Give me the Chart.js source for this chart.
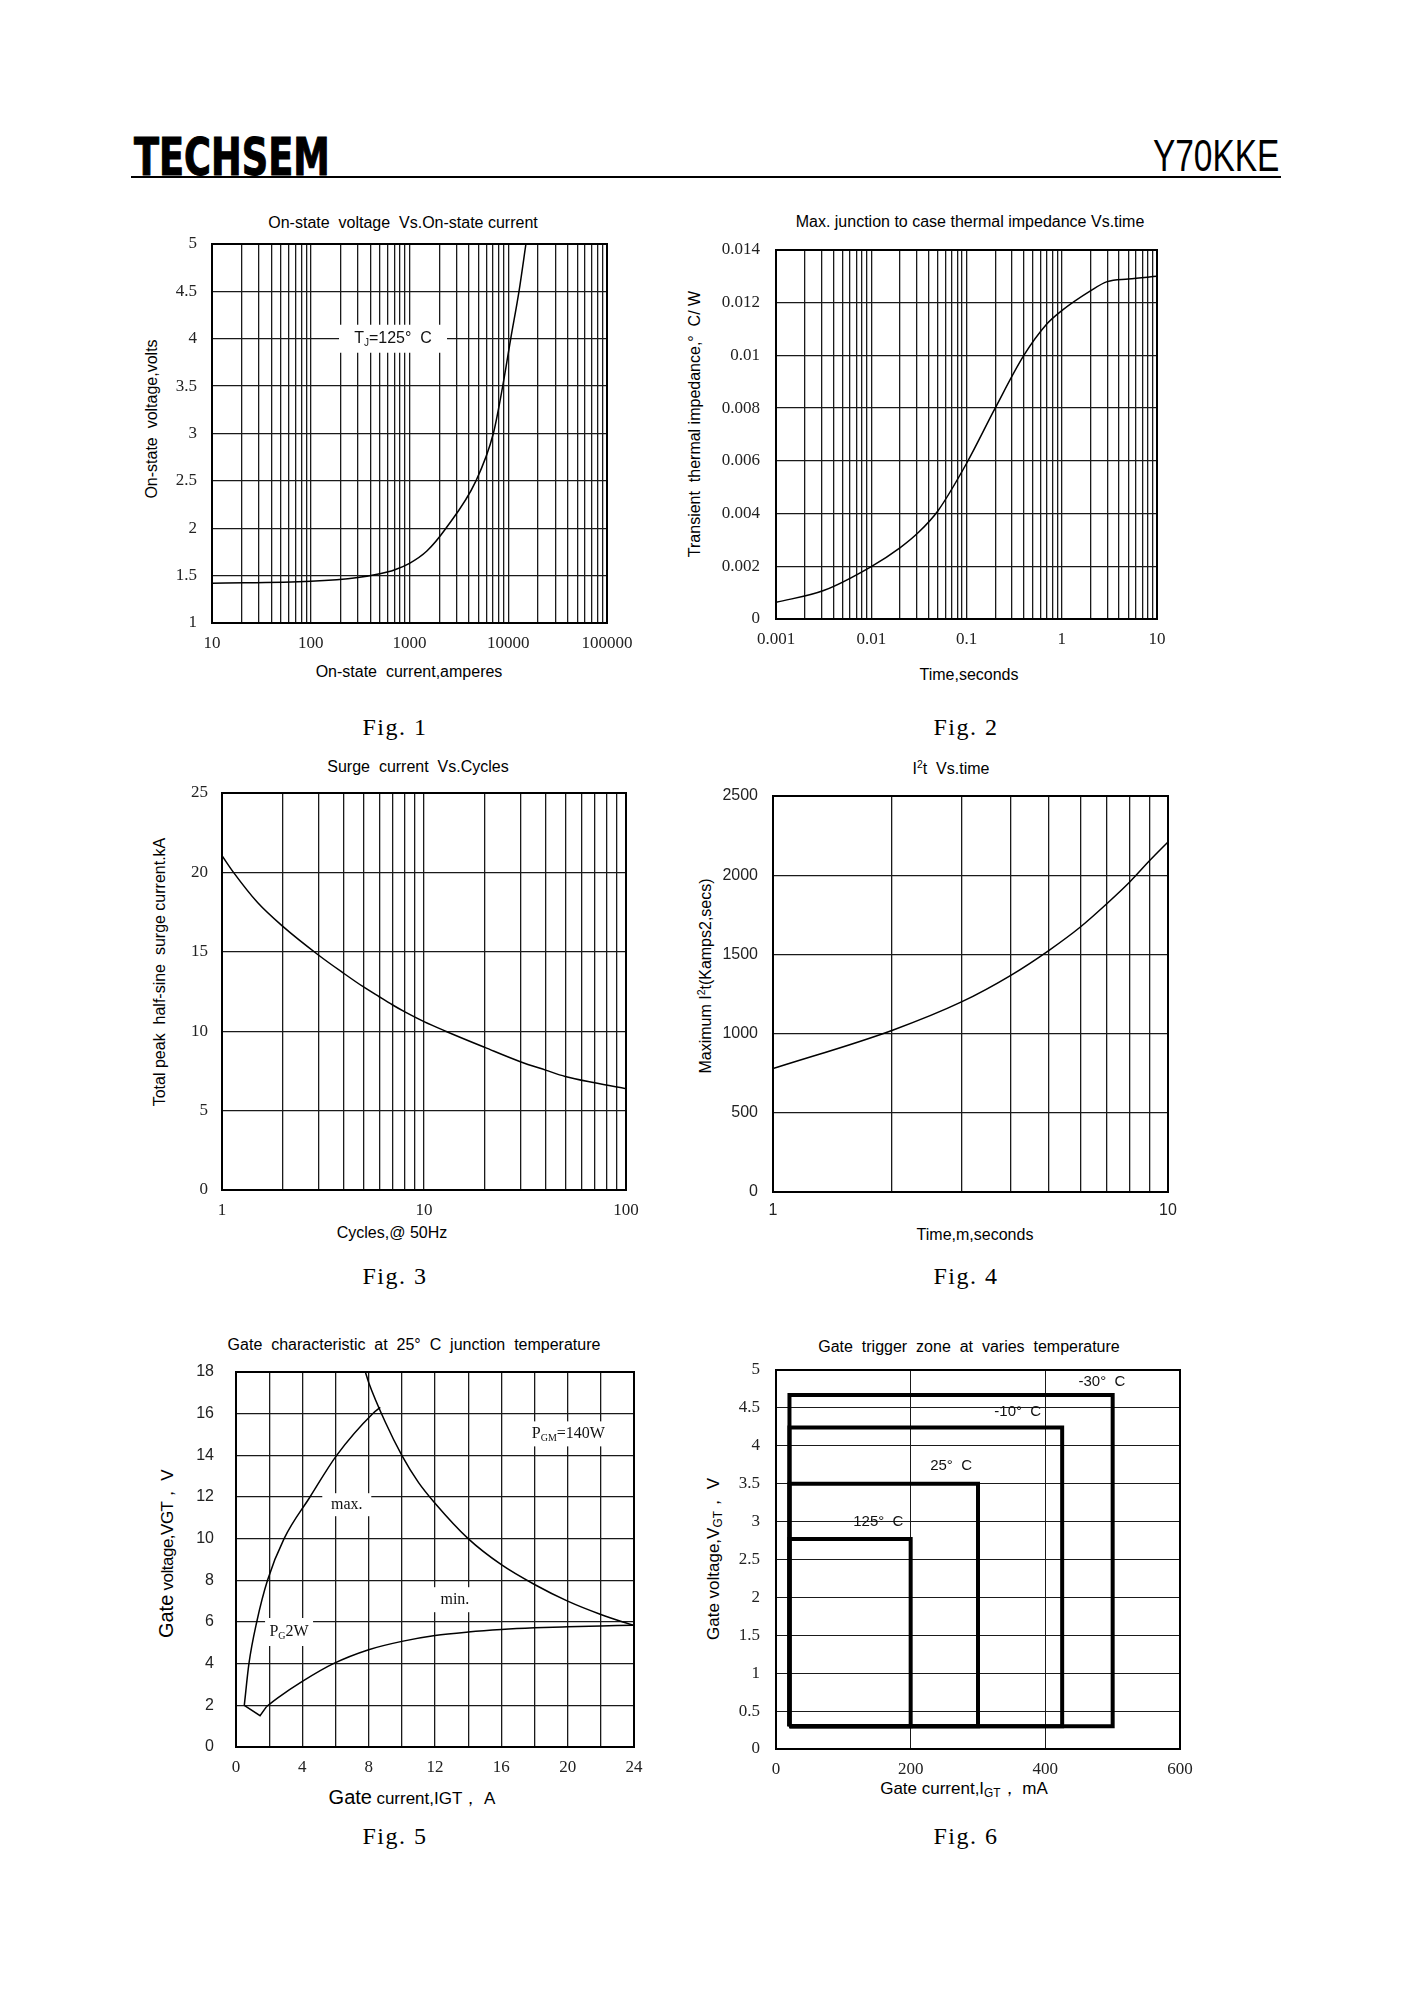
<!DOCTYPE html>
<html>
<head>
<meta charset="utf-8">
<script src="https://cdn.jsdelivr.net/npm/chart.js@4.4.1/dist/chart.umd.min.js"></script>
<style>
  body { margin: 0; background: #fff; }
  #page { position: relative; width: 1414px; height: 2000px; background: #fff; color: #000;
          font-family: "Liberation Sans", Arial, sans-serif; overflow: hidden; }
  .t { position: absolute; white-space: nowrap; transform: translate(-50%, -50%); font-size: 16px; }
  .v { position: absolute; white-space: nowrap; transform: translate(-50%, -50%) rotate(-90deg); font-size: 16px; }
  .fig { position: absolute; white-space: nowrap; transform: translate(-50%, -50%);
         font-family: "Liberation Serif", serif; font-size: 24px; letter-spacing: 1.5px; }
  canvas { position: absolute; }
  sub { font-size: 70%; vertical-align: -3px; }
  sup { font-size: 65%; vertical-align: 6px; }
</style>
</head>
<body>
<div id="page">
  <div style="position:absolute;left:134px;top:128px;font-family:'DejaVu Sans Condensed','Liberation Sans',sans-serif;font-weight:bold;font-size:51px;transform:scaleX(0.8);transform-origin:left top;-webkit-text-stroke:1px #000;">TECHSEM</div>
  <div style="position:absolute;right:135px;top:131px;font-size:44px;transform:scaleX(0.76);transform-origin:right top;">Y70KKE</div>
  <div style="position:absolute;left:131px;top:176px;width:1150px;height:2px;background:#000;"></div>

  <div class="t" style="left:403px;top:223px;">On-state &nbsp;voltage &nbsp;Vs.On-state current</div>
  <div class="t" style="left:409px;top:672px;">On-state &nbsp;current,amperes</div>
  <div class="v" style="left:152px;top:419px;">On-state &nbsp;voltage,volts</div>
  <div class="fig" style="left:395px;top:727px;">Fig. 1</div>

  <div class="t" style="left:970px;top:222px;">Max. junction to case thermal impedance Vs.time</div>
  <div class="t" style="left:969px;top:675px;">Time,seconds</div>
  <div class="v" style="left:695px;top:424px;">Transient &nbsp;thermal impedance,° &nbsp;C/ W</div>
  <div class="fig" style="left:966px;top:727px;">Fig. 2</div>

  <div class="t" style="left:418px;top:767px;">Surge &nbsp;current &nbsp;Vs.Cycles</div>
  <div class="t" style="left:392px;top:1233px;">Cycles,@ 50Hz</div>
  <div class="v" style="left:160px;top:972px;">Total peak &nbsp;half-sine &nbsp;surge current.kA</div>
  <div class="fig" style="left:395px;top:1276px;">Fig. 3</div>

  <div class="t" style="left:951px;top:768px;">I<sup>2</sup>t &nbsp;Vs.time</div>
  <div class="t" style="left:975px;top:1235px;">Time,m,seconds</div>
  <div class="v" style="left:705px;top:976px;">Maximum I<sup>2</sup>t(Kamps2,secs)</div>
  <div class="fig" style="left:966px;top:1276px;">Fig. 4</div>

  <div class="t" style="left:414px;top:1345px;">Gate &nbsp;characteristic &nbsp;at &nbsp;25° &nbsp;C &nbsp;junction &nbsp;temperature</div>
  <div class="t" style="left:412px;top:1798px;"><span style="font-size:20px;">Gate</span> <span style="font-size:17px;">current,IGT，&nbsp;A</span></div>
  <div class="v" style="left:167px;top:1554px;"><span style="font-size:20px;">Gate</span><span style="font-size:17px;letter-spacing:-0.5px;"> voltage,VGT，&nbsp;V</span></div>
  <div class="fig" style="left:395px;top:1836px;">Fig. 5</div>

  <div class="t" style="left:969px;top:1347px;">Gate &nbsp;trigger &nbsp;zone &nbsp;at &nbsp;varies &nbsp;temperature</div>
  <div class="t" style="left:964px;top:1788px;font-size:17px;">Gate current,I<sub>GT</sub>，&nbsp;mA</div>
  <div class="v" style="left:713px;top:1559px;font-size:17px;">Gate voltage,V<sub>GT</sub>，&nbsp;V</div>
  <div class="fig" style="left:966px;top:1836px;">Fig. 6</div>
</div>

<script>
// Fig. 1: on-state voltage vs on-state current
const fig1Current = [10, 100, 300, 500, 700, 1000, 1500, 2340, 4710, 7060, 8790, 10590, 12850, 15100];
const fig1Voltage = [1.42, 1.44, 1.48, 1.52, 1.56, 1.63, 1.76, 2.0, 2.5, 3.0, 3.5, 4.0, 4.5, 5.0];
const fig1XTicks = [10, 100, 1000, 10000, 100000];
const fig1XLabels = ['10', '100', '1000', '10000', '100000'];
const fig1YLabels = ['1', '1.5', '2', '2.5', '3', '3.5', '4', '4.5', '5'];

// Fig. 2: transient thermal impedance vs time
const fig2Time = [0.001, 0.00316, 0.01, 0.02, 0.0316, 0.05, 0.1, 0.2, 0.4, 0.7, 1, 2, 3, 5, 10];
const fig2Z = [0.00063, 0.00108, 0.00199, 0.0027, 0.0033, 0.0041, 0.0059, 0.0080, 0.0100, 0.0112, 0.0117, 0.01245, 0.0128, 0.0129, 0.0130];
const fig2XTicks = [0.001, 0.01, 0.1, 1, 10];
const fig2XLabels = ['0.001', '0.01', '0.1', '1', '10'];
const fig2YLabels = ['0', '0.002', '0.004', '0.006', '0.008', '0.01', '0.012', '0.014'];

// Fig. 3: surge current vs cycles
const fig3Cycles = [1, 1.14, 1.5, 2, 3, 4, 5, 6, 7, 8, 10, 12.8, 20, 30, 40, 50, 70, 100];
const fig3Current = [21.05, 20, 18.1, 16.6, 14.8, 13.65, 12.8, 12.17, 11.65, 11.23, 10.6, 10, 8.98, 8.08, 7.55, 7.15, 6.75, 6.38];
const fig3XTicks = [1, 10, 100];
const fig3XLabels = ['1', '10', '100'];
const fig3YLabels = ['0', '5', '10', '15', '20', '25'];

// Fig. 4: I2t vs time
const fig4Time = [1, 2, 3, 4, 5, 6, 7, 8, 9, 10];
const fig4I2t = [779, 1020, 1200, 1368, 1526, 1673, 1820, 1957, 2094, 2210];
const fig4XTicks = [1, 10];
const fig4XLabels = ['1', '10'];
const fig4YLabels = ['0', '500', '1000', '1500', '2000', '2500'];

// Fig. 5: gate characteristic
const fig5MaxI = [0.5, 0.78, 1.25, 1.9, 2.9, 4.46, 6.07, 8.24, 8.7];
const fig5MaxV = [2.0, 4, 6, 8, 10, 12, 14, 16, 16.3];
const fig5PgI = [0.5, 1.45, 1.85];
const fig5PgV = [2.0, 1.5, 1.95];
const fig5MinI = [1.85, 2.5, 4, 5.87, 8, 10, 12, 14, 16, 18, 20, 22, 24];
const fig5MinV = [1.95, 2.35, 3.15, 4.0, 4.67, 5.07, 5.35, 5.52, 5.64, 5.72, 5.77, 5.81, 5.85];
const fig5PgmI = [7.8, 8, 9, 10, 11, 12, 14, 16, 18, 20, 22, 24];
const fig5PgmV = [18, 17.5, 15.6, 14, 12.7, 11.7, 10, 8.75, 7.8, 7, 6.36, 5.83];
const fig5XLabels = ['0', '4', '8', '12', '16', '20', '24'];
const fig5YLabels = ['0', '2', '4', '6', '8', '10', '12', '14', '16', '18'];

// Fig. 6: gate trigger zones
const fig6Zones = ['-30° C', '-10° C', '25° C', '125° C'];
const fig6ZoneRight = [500, 425, 300, 200];
const fig6ZoneTop = [4.67, 4.24, 3.5, 2.77];
const fig6ZoneLeft = 20;
const fig6ZoneBottom = 0.3;
const fig6XLabels = ['0', '200', '400', '600'];
const fig6YLabels = ['0', '0.5', '1', '1.5', '2', '2.5', '3', '3.5', '4', '4.5', '5'];

const PAD_L = 80, PAD_T = 14, PAD_R = 50, PAD_B = 40;
const SERIF = '"Liberation Serif", "DejaVu Serif", serif';
const SANS = '"Liberation Sans", Arial, sans-serif';

function pts(xs, ys) {
    return xs.map((x, i) => ({ x: x, y: ys[i] }));
}

// gridline positions 1..9 per decade
function logGrid(min, max) {
    let out = [];
    for (let d = min; d < max * 0.999; d *= 10) {
        for (let k = 1; k < 10; k++) out.push(Number((d * k).toPrecision(6)));
    }
    out.push(max);
    return out;
}

function labelFor(vals, labels) {
    return (v) => {
        const i = vals.findIndex(t => Math.abs(t - v) <= Math.abs(t) * 1e-6 + 1e-12);
        return i < 0 ? '' : labels[i];
    };
}

const frame = {
    id: 'frame',
    afterDraw(chart) {
        const a = chart.chartArea, ctx = chart.ctx;
        ctx.save();
        ctx.strokeStyle = '#000';
        ctx.lineWidth = 2;
        ctx.strokeRect(a.left, a.top, a.right - a.left, a.bottom - a.top);
        ctx.restore();
    }
};

const notes = {
    id: 'notes',
    afterDatasetsDraw(chart, args, opts) {
        const ctx = chart.ctx, xs = chart.scales.x, ys = chart.scales.y;
        (opts.items || []).forEach(it => {
            const px = xs.getPixelForValue(it.x), py = ys.getPixelForValue(it.y);
            ctx.save();
            let w = 0;
            it.parts.forEach(p => { ctx.font = p.sub ? it.subFont : it.font; w += ctx.measureText(p.t).width; });
            if (it.box) {
                ctx.fillStyle = '#fff';
                ctx.fillRect(px - it.box[0] / 2, py - it.box[1] / 2, it.box[0], it.box[1]);
            }
            let x = px - w / 2;
            ctx.fillStyle = '#111';
            ctx.textBaseline = 'middle';
            it.parts.forEach(p => {
                ctx.font = p.sub ? it.subFont : it.font;
                ctx.fillText(p.t, x, py + (p.sub ? 4 : 0));
                x += ctx.measureText(p.t).width;
            });
            ctx.restore();
        });
    }
};

function makeChart(box, datasets, xScale, yScale, items, gridWidth) {
    const canvas = document.createElement('canvas');
    const w = box.R - box.L + PAD_L + PAD_R, h = box.B - box.T + PAD_T + PAD_B;
    canvas.width = w;
    canvas.height = h;
    canvas.style.left = (box.L - PAD_L) + 'px';
    canvas.style.top = (box.T - PAD_T) + 'px';
    canvas.style.width = w + 'px';
    canvas.style.height = h + 'px';
    document.getElementById('page').appendChild(canvas);

    const grid = { color: '#1a1a1a', lineWidth: gridWidth || 1.3, drawTicks: false };
    const border = { display: true, color: '#000', width: 2 };
    xScale.grid = grid;
    yScale.grid = grid;
    xScale.border = border;
    yScale.border = border;
    xScale.afterFit = s => { s.height = PAD_B; s.paddingLeft = 0; s.paddingRight = 0; };
    yScale.afterFit = s => { s.width = PAD_L; s.paddingTop = 0; s.paddingBottom = 0; };

    return new Chart(canvas, {
        type: 'line',
        data: { datasets: datasets },
        options: {
            responsive: false,
            animation: false,
            devicePixelRatio: 1,
            layout: { padding: { left: 0, top: PAD_T, right: PAD_R, bottom: 0 } },
            scales: { x: xScale, y: yScale },
            plugins: {
                legend: { display: false },
                tooltip: { enabled: false },
                notes: { items: items || [] }
            }
        },
        plugins: [frame, notes]
    });
}

function curve(data, opts) {
    return Object.assign({
        data: data,
        borderColor: '#000',
        borderWidth: 1.5,
        pointRadius: 0,
        fill: false,
        cubicInterpolationMode: 'monotone'
    }, opts || {});
}

function logX(min, max, tickVals, labels, pad, font) {
    const grid = logGrid(min, max);
    return {
        type: 'logarithmic', min: min, max: max,
        afterBuildTicks: s => { s.ticks = grid.map(v => ({ value: v })); },
        ticks: { autoSkip: false, maxRotation: 0, padding: pad, color: '#222', font: font,
                 callback: labelFor(tickVals, labels) }
    };
}

function linY(min, max, step, labels, pad, font) {
    const vals = labels.map(Number);
    return {
        type: 'linear', min: min, max: max,
        ticks: { stepSize: step, padding: pad, color: '#222', font: font,
                 callback: labelFor(vals, labels) }
    };
}

const serif17 = { family: SERIF, size: 17 };
const sans16 = { family: SANS, size: 16 };

// Fig. 1
makeChart({ L: 212, T: 244, R: 607, B: 623 },
    [curve(pts(fig1Current, fig1Voltage))],
    logX(10, 100000, fig1XTicks, fig1XLabels, 10, serif17),
    linY(1, 5, 0.5, fig1YLabels, 15, serif17),
    [{ x: 681, y: 4.0, box: [108, 28], font: '16px ' + SANS, subFont: '10px ' + SANS,
       parts: [{ t: 'T' }, { t: 'J', sub: true }, { t: '=125°  C' }] }]);

// Fig. 2
makeChart({ L: 776, T: 250, R: 1157, B: 619 },
    [curve(pts(fig2Time, fig2Z))],
    logX(0.001, 10, fig2XTicks, fig2XLabels, 10, serif17),
    linY(0, 0.014, 0.002, fig2YLabels, 16, serif17));

// Fig. 3
makeChart({ L: 222, T: 793, R: 626, B: 1190 },
    [curve(pts(fig3Cycles, fig3Current))],
    logX(1, 100, fig3XTicks, fig3XLabels, 10, serif17),
    linY(0, 25, 5, fig3YLabels, 14, serif17));

// Fig. 4
makeChart({ L: 773, T: 796, R: 1168, B: 1192 },
    [curve(pts(fig4Time, fig4I2t))],
    logX(1, 10, fig4XTicks, fig4XLabels, 9, sans16),
    linY(0, 2500, 500, fig4YLabels, 15, sans16));

// Fig. 5
const fig5X = {
    type: 'linear', min: 0, max: 24,
    ticks: { stepSize: 2, padding: 10, color: '#222', font: serif17,
             callback: labelFor(fig5XLabels.map(Number), fig5XLabels) }
};
makeChart({ L: 236, T: 1372, R: 634, B: 1747 },
    [
        curve(pts(fig5MaxI, fig5MaxV)),
        curve(pts(fig5PgI, fig5PgV), { cubicInterpolationMode: 'default', tension: 0 }),
        curve(pts(fig5MinI, fig5MinV)),
        curve(pts(fig5PgmI, fig5PgmV))
    ],
    fig5X,
    linY(0, 18, 2, fig5YLabels, 22, sans16),
    [
        { x: 6.68, y: 11.63, box: [49, 23], font: '16px ' + SERIF, subFont: '11px ' + SERIF, parts: [{ t: 'max.' }] },
        { x: 13.2, y: 7.07, box: [46, 25], font: '16px ' + SERIF, subFont: '11px ' + SERIF, parts: [{ t: 'min.' }] },
        { x: 3.2, y: 5.52, box: [48, 28], font: '16px ' + SERIF, subFont: '10px ' + SERIF,
          parts: [{ t: 'P' }, { t: 'G', sub: true }, { t: '2W' }] },
        { x: 20.04, y: 15.03, box: [72, 25], font: '16px ' + SERIF, subFont: '10px ' + SERIF,
          parts: [{ t: 'P' }, { t: 'GM', sub: true }, { t: '=140W' }] }
    ]);

// Fig. 6
const fig6Sets = fig6Zones.map((name, i) => curve(pts(
    [fig6ZoneLeft, fig6ZoneLeft, fig6ZoneRight[i], fig6ZoneRight[i], fig6ZoneLeft],
    [fig6ZoneBottom, fig6ZoneTop[i], fig6ZoneTop[i], fig6ZoneBottom, fig6ZoneBottom]),
    { label: name, borderWidth: 4, cubicInterpolationMode: 'default', tension: 0, borderJoinStyle: 'miter' }));
const fig6X = {
    type: 'linear', min: 0, max: 600,
    ticks: { stepSize: 200, padding: 10, color: '#222', font: serif17,
             callback: labelFor(fig6XLabels.map(Number), fig6XLabels) }
};
makeChart({ L: 776, T: 1370, R: 1180, B: 1749 },
    fig6Sets,
    fig6X,
    linY(0, 5, 0.5, fig6YLabels, 16, serif17),
    [
        { x: 484, y: 4.85, font: '15px ' + SANS, subFont: '10px ' + SANS, parts: [{ t: '-30°  C' }] },
        { x: 359, y: 4.45, font: '15px ' + SANS, subFont: '10px ' + SANS, parts: [{ t: '-10°  C' }] },
        { x: 260, y: 3.73, font: '15px ' + SANS, subFont: '10px ' + SANS, parts: [{ t: '25°  C' }] },
        { x: 152, y: 3.0, font: '15px ' + SANS, subFont: '10px ' + SANS, parts: [{ t: '125°  C' }] }
    ], 1);
</script>
</body>
</html>
